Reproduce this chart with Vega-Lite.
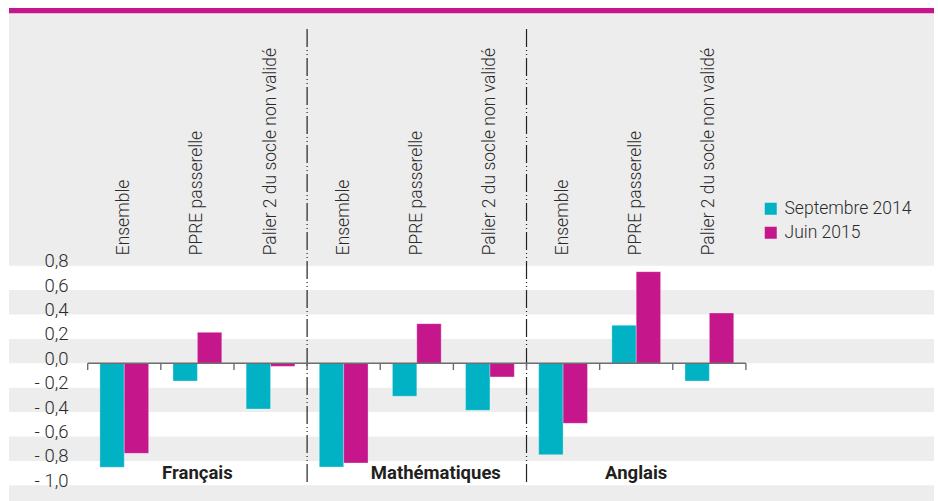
{
  "$schema": "https://vega.github.io/schema/vega-lite/v6.json",
  "width": 925,
  "height": 493,
  "autosize": {"type": "none"},
  "padding": {"left": 9, "top": 8, "right": 4, "bottom": 0},
  "background": "white",
  "config": {
    "view": {"stroke": null},
    "font": "Roboto, Liberation Sans, sans-serif"
  },
  "datasets": {
    "barres": [
      {"groupe": "Français", "categorie": "Ensemble", "cle": "Français|Ensemble", "serie": "Septembre 2014", "valeur": -0.852},
      {"groupe": "Français", "categorie": "Ensemble", "cle": "Français|Ensemble", "serie": "Juin 2015", "valeur": -0.738},
      {"groupe": "Français", "categorie": "PPRE passerelle", "cle": "Français|PPRE passerelle", "serie": "Septembre 2014", "valeur": -0.145},
      {"groupe": "Français", "categorie": "PPRE passerelle", "cle": "Français|PPRE passerelle", "serie": "Juin 2015", "valeur": 0.254},
      {"groupe": "Français", "categorie": "Palier 2 du socle non validé", "cle": "Français|Palier 2 du socle non validé", "serie": "Septembre 2014", "valeur": -0.375},
      {"groupe": "Français", "categorie": "Palier 2 du socle non validé", "cle": "Français|Palier 2 du socle non validé", "serie": "Juin 2015", "valeur": -0.025},
      {"groupe": "Mathématiques", "categorie": "Ensemble", "cle": "Mathématiques|Ensemble", "serie": "Septembre 2014", "valeur": -0.85},
      {"groupe": "Mathématiques", "categorie": "Ensemble", "cle": "Mathématiques|Ensemble", "serie": "Juin 2015", "valeur": -0.817},
      {"groupe": "Mathématiques", "categorie": "PPRE passerelle", "cle": "Mathématiques|PPRE passerelle", "serie": "Septembre 2014", "valeur": -0.27},
      {"groupe": "Mathématiques", "categorie": "PPRE passerelle", "cle": "Mathématiques|PPRE passerelle", "serie": "Juin 2015", "valeur": 0.325},
      {"groupe": "Mathématiques", "categorie": "Palier 2 du socle non validé", "cle": "Mathématiques|Palier 2 du socle non validé", "serie": "Septembre 2014", "valeur": -0.385},
      {"groupe": "Mathématiques", "categorie": "Palier 2 du socle non validé", "cle": "Mathématiques|Palier 2 du socle non validé", "serie": "Juin 2015", "valeur": -0.112},
      {"groupe": "Anglais", "categorie": "Ensemble", "cle": "Anglais|Ensemble", "serie": "Septembre 2014", "valeur": -0.749},
      {"groupe": "Anglais", "categorie": "Ensemble", "cle": "Anglais|Ensemble", "serie": "Juin 2015", "valeur": -0.492},
      {"groupe": "Anglais", "categorie": "PPRE passerelle", "cle": "Anglais|PPRE passerelle", "serie": "Septembre 2014", "valeur": 0.311},
      {"groupe": "Anglais", "categorie": "PPRE passerelle", "cle": "Anglais|PPRE passerelle", "serie": "Juin 2015", "valeur": 0.751},
      {"groupe": "Anglais", "categorie": "Palier 2 du socle non validé", "cle": "Anglais|Palier 2 du socle non validé", "serie": "Septembre 2014", "valeur": -0.145},
      {"groupe": "Anglais", "categorie": "Palier 2 du socle non validé", "cle": "Anglais|Palier 2 du socle non validé", "serie": "Juin 2015", "valeur": 0.412}
    ],
    "bandes": [
      {"bas": 0.4, "haut": 0.6},
      {"bas": 0.0, "haut": 0.2},
      {"bas": -0.4, "haut": -0.2},
      {"bas": -0.8, "haut": -0.6},
      {"bas": -1.1287, "haut": -1.0},
      {"bas": 0.8, "haut": 2.869}
    ],
    "groupes": [
      {"groupe": "Français", "cle": "Français|PPRE passerelle"},
      {"groupe": "Mathématiques", "cle": "Mathématiques|PPRE passerelle"},
      {"groupe": "Anglais", "cle": "Anglais|PPRE passerelle"}
    ]
  },
  "layer": [
    {
      "data": {"name": "bandes"},
      "mark": {"type": "rect", "color": "#ededed"},
      "encoding": {
        "y": {"field": "bas", "type": "quantitative", "scale": {"domain": [-1.1287, 2.9123], "nice": false, "zero": false},
          "axis": {
            "values": [-1, -0.8, -0.6, -0.4, -0.2, 0, 0.2, 0.4, 0.6, 0.8],
            "labelExpr": "datum.value < -0.001 ? '- ' + replace(format(-datum.value, '.1f'), '.', ',') : replace(format(abs(datum.value), '.1f'), '.', ',')",
            "orient": "left", "offset": -59, "domain": false, "ticks": false, "tickSize": 0, "grid": false,
            "labelPadding": 0, "labelFontSize": 18.5, "labelColor": "#2b2b2b", "labelBaseline": "alphabetic",
            "labelAlign": "right", "labelOffset": 1, "title": null, "zindex": 1, "labelFontWeight": 300,
            "labelFont": "Roboto, Liberation Sans, sans-serif"
          }
        },
        "y2": {"field": "haut"}
      }
    },
    {
      "data": {"values": [{"bas": 2.869, "haut": 2.9123}]},
      "mark": {"type": "rect", "color": "#c5168b"},
      "encoding": {
        "y": {"field": "bas", "type": "quantitative"},
        "y2": {"field": "haut"}
      }
    },
    {
      "data": {"name": "barres"},
      "transform": [
        {"filter": "datum.serie === 'Septembre 2014' && datum.categorie === 'Palier 2 du socle non validé' && datum.groupe !== 'Anglais'"}
      ],
      "mark": {"type": "rule", "color": "#222222", "strokeWidth": 1.2, "strokeDash": [18, 3, 1, 3, 1, 3]},
      "encoding": {
        "x": {"field": "cle", "type": "nominal", "bandPosition": 1, "axis": null,
          "scale": {"type": "band", "domain": ["_g", "Français|Ensemble", "Français|PPRE passerelle", "Français|Palier 2 du socle non validé", "Mathématiques|Ensemble", "Mathématiques|PPRE passerelle", "Mathématiques|Palier 2 du socle non validé", "Anglais|Ensemble", "Anglais|PPRE passerelle", "Anglais|Palier 2 du socle non validé", "_d1", "_d2"], "paddingInner": 0, "paddingOuter": 0.3238, "align": 0.1174}},
        "y": {"datum": 2.74, "type": "quantitative"},
        "y2": {"datum": -0.973}
      }
    },
    {
      "data": {"name": "barres"},
      "mark": {"type": "bar", "stroke": "#ffffff", "strokeWidth": 0.6, "strokeOpacity": 0.5},
      "encoding": {
        "x": {"field": "cle", "type": "nominal", "axis": null,
          "scale": {"type": "band", "domain": ["_g", "Français|Ensemble", "Français|PPRE passerelle", "Français|Palier 2 du socle non validé", "Mathématiques|Ensemble", "Mathématiques|PPRE passerelle", "Mathématiques|Palier 2 du socle non validé", "Anglais|Ensemble", "Anglais|PPRE passerelle", "Anglais|Palier 2 du socle non validé", "_d1", "_d2"], "paddingInner": 0, "paddingOuter": 0.3238, "align": 0.1174}},
        "xOffset": {"field": "serie", "type": "nominal", "sort": ["Septembre 2014", "Juin 2015"], "scale": {"paddingInner": 0, "paddingOuter": 0.5}},
        "y": {"field": "valeur", "type": "quantitative"},
        "color": {"field": "serie", "type": "nominal",
          "scale": {"domain": ["Septembre 2014", "Juin 2015"], "range": ["#00b2c4", "#c5168b"]},
          "legend": {"orient": "none", "legendX": 753, "legendY": 192, "title": null, "symbolType": "square", "symbolSize": 144, "symbolStrokeWidth": 0, "labelFontSize": 17.5, "labelFontWeight": 300, "labelColor": "#2b2b2b", "labelFont": "Roboto, Liberation Sans, sans-serif", "rowPadding": 5, "labelOffset": 5, "padding": 0}
        }
      }
    },
    {
      "data": {"values": [{}]},
      "mark": {"type": "rule", "color": "#6d6d6d", "strokeWidth": 1.4},
      "encoding": {
        "x": {"datum": "Français|Ensemble", "type": "nominal", "bandPosition": 0, "axis": null,
          "scale": {"type": "band", "domain": ["_g", "Français|Ensemble", "Français|PPRE passerelle", "Français|Palier 2 du socle non validé", "Mathématiques|Ensemble", "Mathématiques|PPRE passerelle", "Mathématiques|Palier 2 du socle non validé", "Anglais|Ensemble", "Anglais|PPRE passerelle", "Anglais|Palier 2 du socle non validé", "_d1", "_d2"], "paddingInner": 0, "paddingOuter": 0.3238, "align": 0.1174}},
        "x2": {"datum": "Anglais|Palier 2 du socle non validé", "bandPosition": 1},
        "y": {"datum": 0, "type": "quantitative"}
      }
    },
    {
      "data": {"name": "barres"},
      "transform": [{"filter": "datum.serie === 'Septembre 2014'"}],
      "mark": {"type": "rule", "color": "#6d6d6d", "strokeWidth": 1.4},
      "encoding": {
        "x": {"field": "cle", "type": "nominal", "bandPosition": 0, "axis": null,
          "scale": {"type": "band", "domain": ["_g", "Français|Ensemble", "Français|PPRE passerelle", "Français|Palier 2 du socle non validé", "Mathématiques|Ensemble", "Mathématiques|PPRE passerelle", "Mathématiques|Palier 2 du socle non validé", "Anglais|Ensemble", "Anglais|PPRE passerelle", "Anglais|Palier 2 du socle non validé", "_d1", "_d2"], "paddingInner": 0, "paddingOuter": 0.3238, "align": 0.1174}},
        "y": {"datum": 0, "type": "quantitative"},
        "y2": {"datum": -0.055}
      }
    },
    {
      "data": {"values": [{}]},
      "mark": {"type": "rule", "color": "#6d6d6d", "strokeWidth": 1.4},
      "encoding": {
        "x": {"datum": "Anglais|Palier 2 du socle non validé", "type": "nominal", "bandPosition": 1, "axis": null,
          "scale": {"type": "band", "domain": ["_g", "Français|Ensemble", "Français|PPRE passerelle", "Français|Palier 2 du socle non validé", "Mathématiques|Ensemble", "Mathématiques|PPRE passerelle", "Mathématiques|Palier 2 du socle non validé", "Anglais|Ensemble", "Anglais|PPRE passerelle", "Anglais|Palier 2 du socle non validé", "_d1", "_d2"], "paddingInner": 0, "paddingOuter": 0.3238, "align": 0.1174}},
        "y": {"datum": 0, "type": "quantitative"},
        "y2": {"datum": -0.055}
      }
    },
    {
      "data": {"name": "barres"},
      "transform": [{"filter": "datum.serie === 'Septembre 2014'"}],
      "mark": {"type": "text", "angle": 270, "align": "left", "baseline": "middle", "fontSize": 17.5, "fontWeight": 300, "color": "#2b2b2b", "font": "Roboto, Liberation Sans, sans-serif"},
      "encoding": {
        "x": {"field": "cle", "type": "nominal", "bandPosition": 0.5, "axis": null,
          "scale": {"type": "band", "domain": ["_g", "Français|Ensemble", "Français|PPRE passerelle", "Français|Palier 2 du socle non validé", "Mathématiques|Ensemble", "Mathématiques|PPRE passerelle", "Mathématiques|Palier 2 du socle non validé", "Anglais|Ensemble", "Anglais|PPRE passerelle", "Anglais|Palier 2 du socle non validé", "_d1", "_d2"], "paddingInner": 0, "paddingOuter": 0.3238, "align": 0.1174}},
        "y": {"datum": 0.885, "type": "quantitative"},
        "text": {"field": "categorie"}
      }
    },
    {
      "data": {"name": "groupes"},
      "transform": [{"filter": "datum.groupe !== 'Mathématiques'"}],
      "mark": {"type": "text", "align": "center", "baseline": "alphabetic", "fontSize": 18.5, "fontWeight": "bold", "color": "#231f20", "font": "Roboto, Liberation Sans, sans-serif"},
      "encoding": {
        "x": {"field": "cle", "type": "nominal", "bandPosition": 0.5, "axis": null,
          "scale": {"type": "band", "domain": ["_g", "Français|Ensemble", "Français|PPRE passerelle", "Français|Palier 2 du socle non validé", "Mathématiques|Ensemble", "Mathématiques|PPRE passerelle", "Mathématiques|Palier 2 du socle non validé", "Anglais|Ensemble", "Anglais|PPRE passerelle", "Anglais|Palier 2 du socle non validé", "_d1", "_d2"], "paddingInner": 0, "paddingOuter": 0.3238, "align": 0.1174}},
        "y": {"datum": -0.952, "type": "quantitative"},
        "text": {"field": "groupe"}
      }
    },
    {
      "data": {"name": "groupes"},
      "transform": [{"filter": "datum.groupe === 'Mathématiques'"}],
      "mark": {"type": "text", "align": "center", "baseline": "alphabetic", "fontSize": 18.5, "fontWeight": "bold", "color": "#231f20", "font": "Roboto, Liberation Sans, sans-serif"},
      "encoding": {
        "x": {"field": "cle", "type": "nominal", "bandPosition": 0.76, "axis": null,
          "scale": {"type": "band", "domain": ["_g", "Français|Ensemble", "Français|PPRE passerelle", "Français|Palier 2 du socle non validé", "Mathématiques|Ensemble", "Mathématiques|PPRE passerelle", "Mathématiques|Palier 2 du socle non validé", "Anglais|Ensemble", "Anglais|PPRE passerelle", "Anglais|Palier 2 du socle non validé", "_d1", "_d2"], "paddingInner": 0, "paddingOuter": 0.3238, "align": 0.1174}},
        "y": {"datum": -0.952, "type": "quantitative"},
        "text": {"field": "groupe"}
      }
    }
  ]
}
